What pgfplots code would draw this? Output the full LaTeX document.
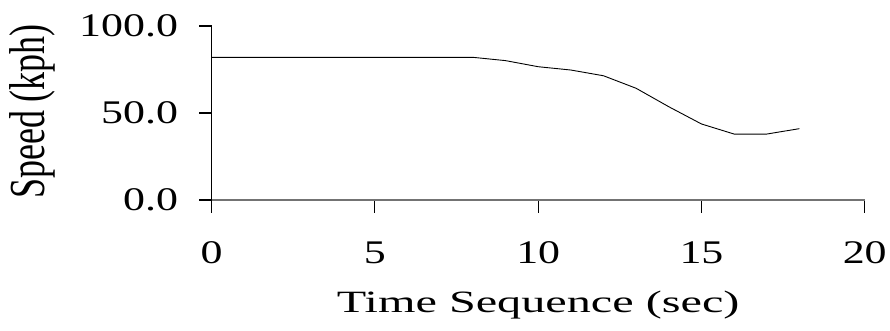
\documentclass[border=0pt]{standalone}
\usepackage{fontspec}
\setmainfont{Liberation Serif}
\newfontfamily\wideticks[FakeStretch=1.33]{Liberation Serif}
\newfontfamily\widexlab[FakeStretch=1.555]{Liberation Serif}
\newfontfamily\tallylab[FakeStretch=0.714]{Liberation Serif}
\usepackage{pgfplots}
\pgfplotsset{compat=1.18}
\begin{document}
\begin{tikzpicture}
\useasboundingbox (-211.7bp,-131bp) rectangle (678.3bp,200bp);
\begin{axis}[
  at={(0,0)}, anchor=south west,
  scale only axis, width=653bp, height=174bp,
  xmin=0, xmax=20, ymin=0, ymax=100,
  axis x line*=bottom, axis y line*=left,
  x axis line style={black!55, line width=1.4bp, -},
  y axis line style={black, line width=1.2bp, -},
  tick align=outside,
  major tick length=12.5bp,
  xtick={0,5,10,15,20}, ytick={0,50,100},
  minor tick num=0,
  xtick style={black, line width=1.1bp},
  ytick style={black, line width=1.1bp},
  /pgf/number format/assume math mode=true,
  yticklabel style={/pgf/number format/fixed, /pgf/number format/fixed zerofill, /pgf/number format/precision=1,
    font={\wideticks\fontsize{33bp}{36bp}\selectfont}, anchor=east, inner sep=0pt, xshift=-21bp},
  xticklabel style={font={\wideticks\fontsize{33bp}{36bp}\selectfont}, anchor=base, inner sep=0pt, yshift=-51bp},
  scaled y ticks=false,
  every axis x label/.style={at={(axis description cs:0.5,-0.6454)}, anchor=base},
  every axis y label/.style={at={(axis description cs:-0.2568,0.5086)}, anchor=base, rotate=90},
  xlabel={\widexlab\fontsize{31bp}{34bp}\selectfont Time Sequence (sec)},
  ylabel={\tallylab\fontsize{50.4bp}{54bp}\selectfont Speed (kph)},
  clip=false,
]
\addplot[black, line width=0.9bp, mark=none] coordinates {
  (0,82.0) (1,82.0) (2,82.0) (3,82.0) (4,82.0) (5,82.0) (6,82.0) (7,82.0) (8,82.0)
  (9,80.1) (10,76.6) (11,74.7) (12,71.4) (13,64.2) (14,53.6) (15,43.7)
  (16,37.9) (17,37.9) (18,41.0)
};
\end{axis}
\end{tikzpicture}
\end{document}
